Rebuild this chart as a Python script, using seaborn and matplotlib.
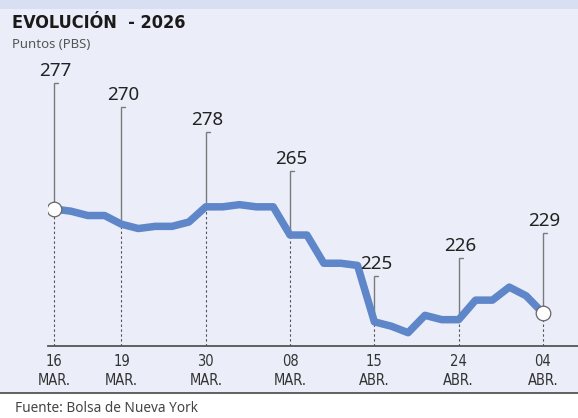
import matplotlib
matplotlib.use("Agg")
import matplotlib.pyplot as plt
import seaborn as sns
import pandas as pd
from matplotlib.lines import Line2D
from matplotlib.patches import Rectangle

# ---------------- data ----------------
values = [277, 276, 274, 274, 270, 268, 269, 269, 271, 278,
          278, 279, 278, 278, 265, 265, 252, 252, 251, 225,
          223, 220, 228, 226, 226, 235, 235, 241, 237, 229]
tick_idx = [0, 4, 9, 14, 19, 24, 29]
tick_days = ["16", "19", "30", "08", "15", "24", "04"]
tick_months = ["MAR.", "MAR.", "MAR.", "MAR.", "ABR.", "ABR.", "ABR."]
label_values = [277, 270, 278, 265, 225, 226, 229]

title = "EVOLUCIÓN  - 2026"
subtitle = "Puntos (PBS)"
source = "Fuente: Bolsa de Nueva York"

# ---------------- layout ----------------
W, H = 578, 418
BG = "#EBEEF8"
BAND = "#D9DFF2"
LINE = "#5E86C9"
connector_top_px = [83, 107, 132, 171, 276, 258, 233]  # pixel rows of label stems

sns.set_theme(style="white")
plt.rcParams["font.family"] = ["Noto Sans", "DejaVu Sans"]

fig = plt.figure(figsize=(W / 100, H / 100), dpi=100)
fig.patch.set_facecolor(BG)

fig.add_artist(Rectangle((0, 1 - 9 / H), 1, 9 / H, transform=fig.transFigure,
                         facecolor=BAND, edgecolor="none", zorder=0))
fig.add_artist(Rectangle((0, 0), 1, (H - 393) / H, transform=fig.transFigure,
                         facecolor="white", edgecolor="none", zorder=0))
fig.add_artist(Line2D([0, 1], [(H - 393) / H] * 2, transform=fig.transFigure,
                      color="#555555", lw=1.3, zorder=1))

ax_left, ax_right = 48, 578
ax_top, ax_bottom = 60, 345.6
ax = fig.add_axes([ax_left / W, (H - ax_bottom) / H,
                   (ax_right - ax_left) / W, (ax_bottom - ax_top) / H])
ax.set_facecolor("none")

x0_px, x1_px = 54, 543
ppx = (len(values) - 1) / (x1_px - x0_px)
ax.set_xlim(0 - (x0_px - ax_left) * ppx, (len(values) - 1) + (ax_right - x1_px) * ppx)
scale = 2.17
ax.set_ylim(277 - (ax_bottom - 209) / scale, 277 + (209 - ax_top) / scale)

df = pd.DataFrame({"idx": range(len(values)), "val": values})

for i, v, lab, top_px in zip(tick_idx, [values[k] for k in tick_idx],
                             label_values, connector_top_px):
    top_v = ax.transData.inverted().transform((0, H - top_px))[1]
    ax.plot([i, i], [ax.get_ylim()[0], v], color="#555555", lw=0.8,
            ls=(0, (2.2, 2.2)), zorder=2)
    ax.plot([i, i, i + 4 * ppx], [v, top_v, top_v], color="#7a7a7a", lw=1.0,
            zorder=2, solid_joinstyle="miter")
    ax.text(i + 1.5 * ppx, top_v + 3 / scale, str(lab), ha="center", va="bottom",
            fontsize=13.5, color="#222222", zorder=5)

sns.lineplot(data=df, x="idx", y="val", ax=ax, color=LINE, lw=5.4,
             zorder=3, solid_joinstyle="round", solid_capstyle="butt")

ax.plot([0, len(values) - 1], [values[0], values[-1]], ls="none", marker="o",
        markersize=10.5, markerfacecolor="white", markeredgecolor="#666666",
        markeredgewidth=0.9, zorder=4)

for s in ["top", "right", "left"]:
    ax.spines[s].set_visible(False)
ax.spines["bottom"].set_color("#555555")
ax.spines["bottom"].set_linewidth(1.3)
ax.set_yticks([])
ax.set_xticks(tick_idx)
ax.set_xticklabels([f"{d}\n{m}" for d, m in zip(tick_days, tick_months)],
                   family="DejaVu Sans", fontstretch="condensed",
                   fontsize=10.5, color="#333333", linespacing=1.35)
ax.tick_params(axis="x", length=0, pad=6)
ax.set_xlabel("")
ax.set_ylabel("")

fig.text(12 / W, 1 - 23 / H, title, ha="left", va="center",
         family="DejaVu Sans", fontstretch="condensed", fontweight="bold",
         fontsize=13, color="#1a1a1a")
fig.text(12 / W, 1 - 45 / H, subtitle, ha="left", va="center",
         fontsize=9.5, color="#555555")
fig.text(15 / W, 1 - 409 / H, source, ha="left", va="center",
         fontsize=9.8, color="#444444")

fig.savefig("out.png", dpi=100, facecolor=fig.get_facecolor())
